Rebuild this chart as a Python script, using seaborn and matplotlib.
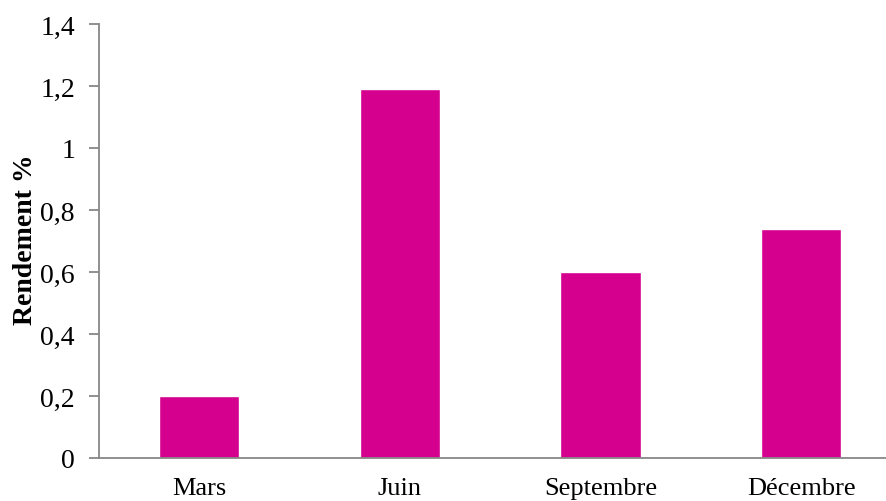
import matplotlib
matplotlib.use("Agg")
import matplotlib.pyplot as plt
import seaborn as sns
import pandas as pd
from matplotlib.ticker import FuncFormatter

# Rendement par saison de récolte
mois = ["Mars", "Juin", "Septembre", "Décembre"]
rendement = [0.20, 1.19, 0.60, 0.74]
yticks = [0, 0.2, 0.4, 0.6, 0.8, 1.0, 1.2, 1.4]

df = pd.DataFrame({"Mois": mois, "Rendement": rendement})

sns.set_style("white")
plt.rcParams["font.family"] = ["Liberation Serif", "DejaVu Serif"]
plt.rcParams["text.color"] = "black"
plt.rcParams["axes.labelcolor"] = "black"
plt.rcParams["xtick.labelcolor"] = "black"
plt.rcParams["ytick.labelcolor"] = "black"

W, H = 886, 502
fig = plt.figure(figsize=(W / 100, H / 100), dpi=100)
left, right, bottom, top = 98.6, 901.6, 459, 25
ax = fig.add_axes([left / W, 1 - bottom / H, (right - left) / W, (bottom - top) / H])

sns.barplot(data=df, x="Mois", y="Rendement", color="#D6008F", width=0.4,
            saturation=1, ax=ax)

ax.set_xlim(-0.5, 3.5)
ax.set_ylim(0, 1.4)
ax.set_yticks(yticks)
ax.yaxis.set_major_formatter(FuncFormatter(
    lambda v, p: "0" if abs(v) < 1e-9 else f"{v:g}".replace(".", ",")))

gray = "#878787"
for s in ["top", "right"]:
    ax.spines[s].set_visible(False)
for s in ["left", "bottom"]:
    ax.spines[s].set_color(gray)
    ax.spines[s].set_linewidth(1.3)

ax.tick_params(axis="y", direction="out", length=7, width=1.3, color=gray,
               labelsize=20, pad=10, left=True)
ax.tick_params(axis="x", length=0, labelsize=19, pad=14)

ax.set_xlabel("")
ax.set_ylabel("Rendement %", fontsize=20, fontweight="bold")
ax.yaxis.set_label_coords((38 - left) / (right - left), 0.505)

fig.savefig("out.png", dpi=100)
